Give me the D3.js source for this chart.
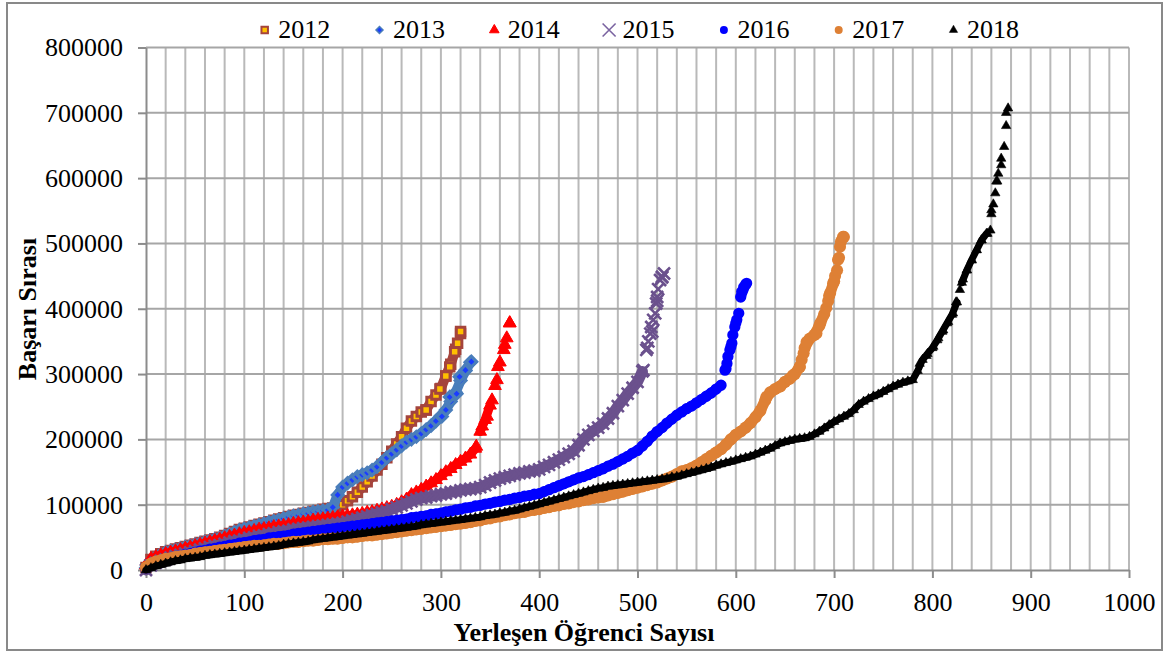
<!DOCTYPE html>
<html><head><meta charset="utf-8">
<script src="https://cdn.jsdelivr.net/npm/d3@7"></script>
<style>body{margin:0;background:#fff} svg{display:block} text{font-family:"Liberation Serif","Times New Roman",serif}</style>
</head><body><svg id="c" width="1168" height="653"></svg>
<script>
// Başarı Sırası values in thousands, sampled every RANK_STEP students (rank 0, 5, 10, ...)
const RANK_STEP = 5;
const s2012 = [4,16,21,25,28,30,32,34,36,38, 40,42,44,46,48,50,53,56,59,62, 64,66,68,70,72,74,76,78,80,82, 84,85,87,88,90,91,93,94,95,96, 100,106,112,119,127,135,144,153,162,172, 182,193,204,217,228,235,242,245,258,268, 278,297,315,338,362];
const s2013 = [3,15,20,24,27,29,31,33,35,37, 39,41,43,45,47,49,52,55,58,61, 63,65,67,69,71,73,75,77,79,81, 83,84,86,87,89,90,91,92,96,115, 127,133,138,143,146,149,153,158,165,172, 178,184,190,196,200,204,209,215,221,228, 236,245,258,272,290,305,318];
const s2014 = [7,17,20,23,25,27,29,31,33,35, 37,39,41,43,45,47,49,51,53,55, 57,58,60,62,63,64,66,67,68,69, 71,72,73,74,76,77,78,79,80,81, 82,83,84,85,86,88,89,91,93,95, 97,100,104,108,115,119,123,128,133,138, 144,150,155,161,166,171,177,186,212,230, 252,282,318,345,378];
const s2015 = [0,7,11,14,16,19,21,23,25,27, 29,31,33,35,37,38,40,42,44,45, 47,49,50,52,53,55,56,58,59,60, 62,63,64,65,66,67,68,69,70,71, 72,74,76,78,80,82,84,86,88,90, 93,96,99,102,105,108,110,111,113,114, 116,117,119,120,122,123,124,125,127,130, 134,137,140,142,144,146,148,149,151,152, 154,158,161,165,169,173,178,182,191,200, 207,213,218,224,232,240,251,260,270,279, 288,304,340,365,412,448];
const s2016 = [3,9,12,14,16,18,20,22,24,25, 27,29,30,32,33,35,36,38,39,41, 42,43,45,46,47,49,50,51,52,53, 55,56,57,58,59,60,61,62,63,64, 65,66,67,68,69,70,71,72,73,74, 75,76,77,78,80,81,82,83,85,86, 87,89,90,92,93,95,96,98,99,101, 102,104,105,107,108,110,111,113,114,116, 117,120,123,126,129,132,135,138,141,143, 146,149,152,155,159,162,166,170,174,179, 183,190,197,205,212,218,225,231,237,242, 247,251,256,261,266,271,277,283,308,342, 378,418,437];
const s2017 = [4,10,13,15,17,18,20,21,22,23, 25,26,27,28,29,30,31,32,33,34, 35,36,37,37,38,39,40,40,41,42, 43,43,44,45,45,46,47,47,48,48, 49,50,50,51,52,53,53,54,55,56, 57,58,59,60,61,62,63,64,65,66, 67,68,69,70,71,72,73,75,76,78, 79,81,82,84,85,87,88,89,91,92, 93,95,96,98,99,101,102,104,105,107, 108,110,111,112,114,116,118,120,122,124, 126,128,130,132,134,137,140,143,147,151, 153,156,160,165,170,175,180,185,192,200, 207,212,218,225,234,244,260,272,277,281, 288,293,300,311,340,354,360,374,392,420, 442,478,510];
const s2018 = [0,3,6,8,10,12,14,15,17,18, 19,20,22,23,24,25,26,27,28,29, 30,31,32,33,34,35,36,37,39,40, 41,42,43,44,46,47,48,49,50,51, 52,53,54,55,56,57,58,59,60,61, 62,63,64,65,66,67,69,70,71,72, 73,74,75,76,77,78,79,80,81,83, 84,85,87,88,90,91,93,95,97,99, 101,103,105,107,109,111,113,115,117,119, 121,123,125,126,128,129,130,131,132,133, 134,135,136,137,138,139,140,142,143,145, 147,149,151,153,155,157,160,162,164,166, 168,170,172,174,177,180,183,186,190,194, 196,198,200,201,202,204,208,212,217,222, 227,231,235,239,245,253,258,262,266,269, 273,277,281,284,287,289,291,305,322,331, 340,352,365,378,391,410,440,459,475,490, 505,515,545,595,630,700];
// extra individually visible markers in the steep tails: [rank, value in thousands]
const e2012 = [[285,245],[299,277],[305,297],[309,311],[314,334],[317,347],[320,365]];
const e2013 = [[301,235],[309,265],[316,270],[319,296],[325,306],[331,319]];
const e2014 = [[336,189],[342,220],[347,235],[352,260],[357,291],[358,311],[364,337],[367,355],[370,378]];
const e2015 = [[506,306],[509,337],[511,350],[513,362],[514,372],[516,383],[518,393],[519,408],[520,418],[521,430],[523,444],[525,449],[527,454]];
const e2016 = [[589,306],[591,316],[592,327],[594,337],[596,347],[597,360],[599,372],[601,383],[603,393],[606,426],[608,433],[611,439]];
const e2017 = [[631,265],[645,281],[658,298],[665,311],[667,322],[669,332],[672,349],[682,362],[686,378],[692,401],[694,412],[696,424],[699,439],[701,450],[703,459],[704,475],[706,495],[707,503],[709,510]];
const e2018 = [[787,316],[794,328],[801,342],[806,355],[811,367],[816,380],[821,393],[824,410],[828,429],[831,445],[835,459],[840,474],[845,490],[850,505],[856,515],[859,520],[860,551],[862,560],[864,577],[866,595],[867,607],[870,620],[873,648],[875,680],[877,707]];
const seriesNames = ["2012","2013","2014","2015","2016","2017","2018"];
const xTicks = [0,100,200,300,400,500,600,700,800,900,1000];
const yTicks = [0,100000,200000,300000,400000,500000,600000,700000,800000];
const xTitle = "Yerleşen Öğrenci Sayısı";
const yTitle = "Başarı Sırası";

const seriesData = [s2012,s2013,s2014,s2015,s2016,s2017,s2018];
const extraData = [e2012,e2013,e2014,e2015,e2016,e2017,e2018];
const FONT = "'Liberation Serif','Times New Roman',serif";

const W=1168,H=653;
const svg=d3.select("#c");
svg.append("rect").attr("width",W).attr("height",H).attr("fill","#fff");
svg.append("rect").attr("x",7).attr("y",3).attr("width",1155).attr("height",647)
  .attr("fill","none").attr("stroke","#898989").attr("stroke-width",2);

const x=d3.scaleLinear().domain([0,1000]).range([146,1129]);
const y=d3.scaleLinear().domain([0,800000]).range([570,47.5]);

// gridlines
svg.append("g").selectAll("line").data(d3.range(20,1001,20)).join("line")
  .attr("x1",d=>x(d)).attr("x2",d=>x(d)).attr("y1",y(800000)).attr("y2",y(0))
  .attr("stroke","#b9b9b9").attr("stroke-width",2);
svg.append("g").selectAll("line").data(yTicks.filter(d=>d>0)).join("line")
  .attr("x1",x(0)).attr("x2",x(1000)).attr("y1",d=>y(d)).attr("y2",d=>y(d))
  .attr("stroke","#a6a6a6").attr("stroke-width",2);

// axes
const ax=svg.append("g").attr("transform",`translate(${x(0)},0)`)
  .call(d3.axisLeft(y).tickValues(yTicks).tickSize(8).tickSizeOuter(0).tickPadding(15).tickFormat(d3.format("d")));
const bx=svg.append("g").attr("transform",`translate(0,${y(0)})`)
  .call(d3.axisBottom(x).tickValues(xTicks).tickSize(8).tickSizeOuter(0).tickPadding(15).tickFormat(d3.format("d")));
[ax,bx].forEach(g=>{
  g.attr("font-family",FONT);
  g.select(".domain").attr("stroke","#8c8c8c").attr("stroke-width",2);
  g.selectAll(".tick line").attr("stroke","#8c8c8c").attr("stroke-width",2);
  g.selectAll(".tick text").attr("font-size",26).attr("fill","#000").style("font-family",FONT);
});

// marker styles
const xPath = s=>`M${-s},${-s}L${s},${s}M${-s},${s}L${s},${-s}`;
const styles=[
  {d:d3.symbol(d3.symbolSquare,72)(), rot:0, fill:"#FFC000", stroke:"#A5443C", sw:3, band:"#A5443C", bw:10, ld:d3.symbol(d3.symbolSquare,42)(), lsw:2},
  {d:d3.symbol(d3.symbolSquare,56)(), rot:45, fill:"#1a3cff", stroke:"#4A7EBB", sw:3.2, band:"#4A7EBB", bw:10, ld:d3.symbol(d3.symbolSquare,24)(), lsw:1.5},
  {d:d3.symbol(d3.symbolTriangle,70)(), rot:0, fill:"#FF0000", stroke:"#FF0000", sw:1, band:"#FF0000", bw:9, ld:d3.symbol(d3.symbolTriangle,40)(), lsw:1},
  {d:xPath(6), rot:0, fill:"none", stroke:"#6B518D", sw:2.6, band:"#6B518D", bw:11, ld:xPath(6.5), lsw:1.6, lstroke:"#7A63A0"},
  {d:d3.symbol(d3.symbolCircle,100)(), rot:0, fill:"#0000FF", stroke:"none", sw:0, band:"#0000FF", bw:10, ld:d3.symbol(d3.symbolCircle,50)(), lsw:0},
  {d:d3.symbol(d3.symbolCircle,115)(), rot:0, fill:"#DE8035", stroke:"none", sw:0, band:"#DE8035", bw:11, ld:d3.symbol(d3.symbolCircle,50)(), lsw:0},
  {d:d3.symbol(d3.symbolTriangle,38)(), rot:0, fill:"#000000", stroke:"#000", sw:0.6, band:"#000000", bw:7, ld:d3.symbol(d3.symbolTriangle,30)(), lsw:0.5}
];

const GAP = 16; // markers farther apart than this (px) don't merge into a band
seriesData.forEach((vals,si)=>{
  const st=styles[si];
  const pts=vals.map((v,i)=>({r:i*RANK_STEP, v:v*1000}));
  const extra=extraData[si].map(p=>({r:p[0], v:p[1]*1000}));
  const px=pts.map(d=>[x(d.r),y(d.v)]);
  const segs=[];
  for(let i=1;i<px.length;i++){
    const dx=px[i][0]-px[i-1][0], dy=px[i][1]-px[i-1][1];
    if(Math.hypot(dx,dy)<GAP) segs.push([px[i-1],px[i]]);
  }
  const g=svg.append("g");
  g.append("path").attr("d",segs.map(s=>`M${s[0][0]},${s[0][1]}L${s[1][0]},${s[1][1]}`).join(""))
    .attr("fill","none").attr("stroke",st.band).attr("stroke-width",st.bw).attr("stroke-linecap","round");
  g.selectAll("path.m").data(pts.concat(extra)).join("path").attr("class","m")
    .attr("d",st.d)
    .attr("transform",d=>`translate(${x(d.r)},${y(d.v)}) rotate(${st.rot})`)
    .attr("fill",st.fill).attr("stroke",st.stroke).attr("stroke-width",st.sw);
});

// legend
const lg=svg.append("g");
seriesNames.forEach((n,i)=>{
  const st=styles[i];
  const lx=264.7+i*114.8;
  lg.append("path").attr("d",st.ld).attr("transform",`translate(${lx},30) rotate(${st.rot})`)
    .attr("fill",st.fill).attr("stroke",st.lstroke||st.stroke).attr("stroke-width",st.lsw);
  lg.append("text").attr("x",lx+13.5).attr("y",38.3).attr("font-size",26).style("font-family",FONT).text(n);
});

// titles
svg.append("text").attr("transform","translate(27,309) rotate(-90)").attr("text-anchor","middle")
  .attr("dy","0.35em").attr("font-size",26).attr("font-weight","bold").style("font-family",FONT).text(yTitle);
svg.append("text").attr("x",584).attr("y",641).attr("text-anchor","middle")
  .attr("font-size",26).attr("font-weight","bold").style("font-family",FONT).text(xTitle);
</script>
</body></html>
